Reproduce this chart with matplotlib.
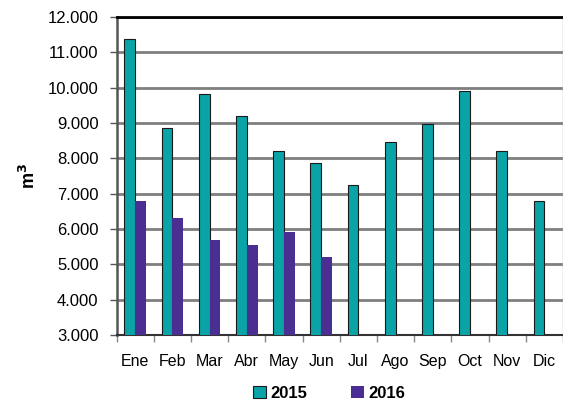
import numpy as np
import matplotlib.pyplot as plt
from matplotlib.ticker import FuncFormatter

meses = ["Ene", "Feb", "Mar", "Abr", "May", "Jun", "Jul", "Ago", "Sep", "Oct", "Nov", "Dic"]
v2015 = [11380, 8850, 9820, 9200, 8210, 7860, 7250, 8450, 8970, 9900, 8200, 6800]
v2016 = [6790, 6310, 5690, 5550, 5910, 5210]

plt.rcParams['font.family'] = ['Liberation Sans', 'DejaVu Sans']

teal = "#0aa3a8"
purple = "#4b2e91"

fig = plt.figure(figsize=(5.63, 4.07), dpi=100)
ax = fig.add_axes([0.207, 0.177, 0.793, 0.781])

x = np.arange(len(meses))
w = 0.29
ax.bar(x - w / 2, v2015, w, color=teal, edgecolor="#1a1a1a", linewidth=0.8, label="2015", zorder=3)
ax.bar(np.arange(len(v2016)) + w / 2, v2016, w, color=purple, linewidth=0, label="2016", zorder=3)

ax.set_xlim(-0.5, 11.5)
ax.set_ylim(3000, 12000)
ax.set_yticks(range(3000, 12001, 1000))
ax.yaxis.set_major_formatter(FuncFormatter(lambda v, p: f"{int(v):,}".replace(",", ".")))
ax.set_xticks(x)
ax.set_xticklabels(meses)
ax.set_xticks(np.arange(-0.5, 12, 1), minor=True)
ax.tick_params(axis="x", which="major", length=0, pad=14, labelsize=11.5)
ax.tick_params(axis="x", which="minor", length=5, color="#888888", width=1)
ax.tick_params(axis="y", length=5, color="#555555", width=1, labelsize=12, pad=8)

ax.grid(axis="y", color="#7f7f7f", linewidth=2, zorder=0)
ax.set_axisbelow(True)

ax.spines["top"].set_color("black")
ax.spines["top"].set_linewidth(2)
ax.spines["left"].set_color("#555555")
ax.spines["left"].set_linewidth(1.8)
ax.spines["bottom"].set_color("#333333")
ax.spines["bottom"].set_linewidth(1.5)
ax.spines["right"].set_color("#bbbbbb")
ax.spines["right"].set_linewidth(1)

ax.set_ylabel("m$^\\mathbf{3}$", fontsize=13, fontweight="bold", labelpad=6)

leg = fig.legend(loc="center", bbox_to_anchor=(0.585, 0.033), ncol=2, frameon=False,
                 handlelength=0.75, handleheight=0.75, columnspacing=2.6, handletextpad=0.3,
                 prop={"weight": "bold", "size": 12})

fig.savefig("out.png", dpi=100)
